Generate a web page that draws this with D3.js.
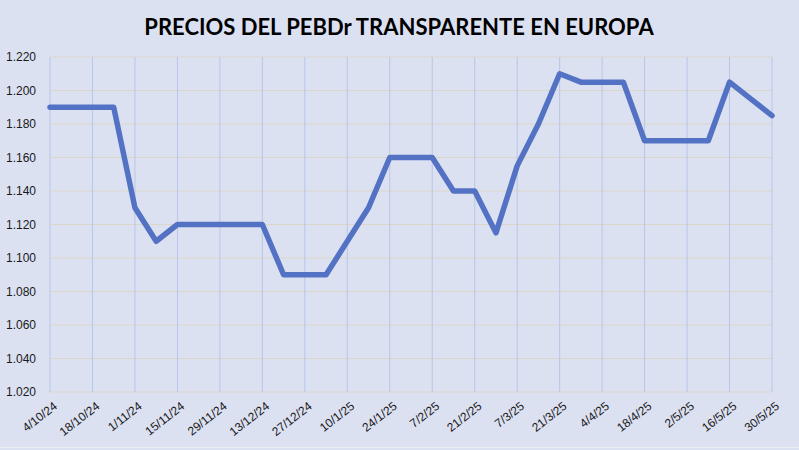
<!DOCTYPE html>
<html>
<head>
<meta charset="utf-8">
<title>Precios del PEBDr transparente en Europa</title>
<script src="https://cdn.jsdelivr.net/npm/d3@7"></script>
<style>
  body { margin: 0; background: #dce1f2; }
  svg { display: block; font-family: Lato, "Open Sans", sans-serif; }
  .title { font-size: 22px; font-weight: bold; fill: #000; }
  .tick text { font-size: 12px; fill: #1a1a1a; }
</style>
</head>
<body>
<div id="chart"></div>
<script>
// weekly dates (every Friday) and prices
var dates = ["4/10/24","11/10/24","18/10/24","25/10/24","1/11/24","8/11/24","15/11/24","22/11/24","29/11/24",
  "6/12/24","13/12/24","20/12/24","27/12/24","3/1/25","10/1/25","17/1/25","24/1/25","31/1/25","7/2/25",
  "14/2/25","21/2/25","28/2/25","7/3/25","14/3/25","21/3/25","28/3/25","4/4/25","11/4/25","18/4/25",
  "25/4/25","2/5/25","9/5/25","16/5/25","23/5/25","30/5/25"];
var prices = [1.190,1.190,1.190,1.190,1.130,1.110,1.120,1.120,1.120,
  1.120,1.120,1.090,1.090,1.090,1.110,1.130,1.160,1.160,1.160,
  1.140,1.140,1.115,1.155,1.180,1.210,1.205,1.205,1.205,1.170,
  1.170,1.170,1.170,1.205,1.195,1.185];
var yTicks = [1.020,1.040,1.060,1.080,1.100,1.120,1.140,1.160,1.180,1.200,1.220];
// every second date gets a label and a vertical gridline
var labelDates = dates.filter(function (d, i) { return i % 2 == 0; });

var width = 799, height = 450;
var margin = { top: 57, right: 27, bottom: 58, left: 50 };

var svg = d3.select("#chart").append("svg")
    .attr("width", width)
    .attr("height", height);

svg.append("rect")
    .attr("width", width).attr("height", height)
    .attr("fill", "#dce1f2");
svg.append("line")
    .attr("x1", 0).attr("x2", width)
    .attr("y1", height - 2.5).attr("y2", height - 2.5)
    .attr("stroke", "#eceef6").attr("stroke-width", 1);

var x = d3.scalePoint()
    .domain(dates)
    .range([margin.left, width - margin.right]);

var y = d3.scaleLinear()
    .domain([1.020, 1.220])
    .range([height - margin.bottom, margin.top]);

// horizontal gridlines
svg.append("g")
    .selectAll("line")
    .data(yTicks)
    .enter()
    .append("line")
    .attr("x1", margin.left).attr("x2", width - margin.right)
    .attr("y1", d => y(d)).attr("y2", d => y(d))
    .attr("stroke", "#dcd6c8").attr("stroke-width", 1);

// vertical gridlines
svg.append("g")
    .selectAll("line")
    .data(labelDates)
    .enter()
    .append("line")
    .attr("x1", d => x(d)).attr("x2", d => x(d))
    .attr("y1", margin.top).attr("y2", height - margin.bottom)
    .attr("stroke", "#b7c6e6").attr("stroke-width", 1);

// y axis
var yAxis = svg.append("g")
    .attr("transform", "translate(" + (margin.left - 11) + ",0)")
    .call(d3.axisLeft(y).tickValues(yTicks).tickSize(0).tickFormat(d3.format(".3f")));
yAxis.select(".domain").remove();

// x axis
var xAxis = svg.append("g")
    .attr("transform", "translate(0," + (height - margin.bottom) + ")")
    .call(d3.axisBottom(x).tickValues(labelDates).tickSize(0));
xAxis.select(".domain").remove();
xAxis.selectAll("text")
    .attr("text-anchor", "end")
    .attr("dy", "0.35em")
    .attr("transform", "translate(3,10) rotate(-38)");

// price line
var line = d3.line()
    .x((d, i) => x(dates[i]))
    .y(d => y(d));

svg.append("path")
    .datum(prices)
    .attr("d", line)
    .attr("fill", "none")
    .attr("stroke", "#5472c4")
    .attr("stroke-width", 5.5)
    .attr("stroke-linejoin", "round")
    .attr("stroke-linecap", "round");

// title
svg.append("text")
    .attr("class", "title")
    .attr("x", 399)
    .attr("y", 35)
    .attr("text-anchor", "middle")
    .text("PRECIOS DEL PEBDr TRANSPARENTE EN EUROPA");
</script>
</body>
</html>
